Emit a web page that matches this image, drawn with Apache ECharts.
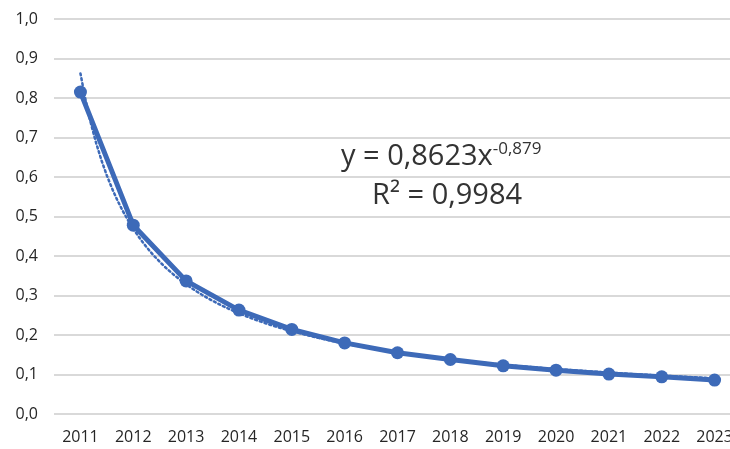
<!DOCTYPE html>
<html><head><meta charset="utf-8">
<script src="https://cdn.jsdelivr.net/npm/echarts@6/dist/echarts.min.js"></script>
<style>html,body{margin:0;padding:0;background:#fff}#c{width:730px;height:449px}</style>
</head><body><div id="c"></div>
<script>
const years = ['2011','2012','2013','2014','2015','2016','2017','2018','2019','2020','2021','2022','2023'];
const values = [0.815,0.478,0.337,0.263,0.214,0.180,0.155,0.138,0.122,0.111,0.101,0.094,0.086];
const trendCoef = 0.8623;
const trendExp = -0.879;
const rSquared = '0,9984';
const yTicks = ['0,0','0,1','0,2','0,3','0,4','0,5','0,6','0,7','0,8','0,9','1,0'];

const trend = [];
for (let i = 0; i <= 120; i++) {
  const x = 1 + i * 0.1;
  trend.push([x, trendCoef * Math.pow(x, trendExp)]);
}
const font = 'Open Sans';
const chart = echarts.init(document.getElementById('c'));
chart.setOption({
  animation: false,
  grid: {left: 54, right: -11, top: 19, bottom: 35, containLabel: false, outerBoundsMode: 'none'},
  xAxis: [{
    type: 'category', data: years, boundaryGap: true,
    axisLine: {show: false}, axisTick: {show: false},
    axisLabel: {color: '#262626', fontSize: 16, fontFamily: font, margin: 15}
  }, {
    type: 'value', min: 0.5, max: 13.5, show: false
  }],
  yAxis: {
    type: 'value', min: 0, max: 1, interval: 0.1,
    axisLine: {show: false}, axisTick: {show: false},
    axisLabel: {color: '#262626', fontSize: 16, fontFamily: font, margin: 16,
      formatter: v => yTicks[Math.round(v * 10)]},
    splitLine: {lineStyle: {color: '#d9d9d9', width: 2}}
  },
  series: [{
    type: 'line', xAxisIndex: 1, data: trend, showSymbol: false, smooth: false,
    lineStyle: {color: '#3d6ab8', width: 2.5, type: [2, 3], cap: 'round'}, z: 1
  }, {
    type: 'line', xAxisIndex: 0, data: values, symbol: 'circle', symbolSize: 13,
    itemStyle: {color: '#3d6ab8'},
    lineStyle: {color: '#3d6ab8', width: 5}, z: 2
  }],
  graphic: [{
    type: 'text', left: 341, top: 141,
    style: {rich: {a: {fontSize: 29, fontFamily: font, fill: '#333'}, s: {fontSize: 17, fontFamily: font, fill: '#333', verticalAlign: 'top', padding: [0,0,14,0]}},
      text: '{a|y = ' + String(trendCoef).replace('.', ',') + 'x}{s|' + String(trendExp).replace('.', ',') + '}'}
  }, {
    type: 'text', left: 372, top: 181,
    style: {text: 'R² = ' + rSquared, fontSize: 29, fontFamily: font, fill: '#333'}
  }]
});
</script></body></html>
